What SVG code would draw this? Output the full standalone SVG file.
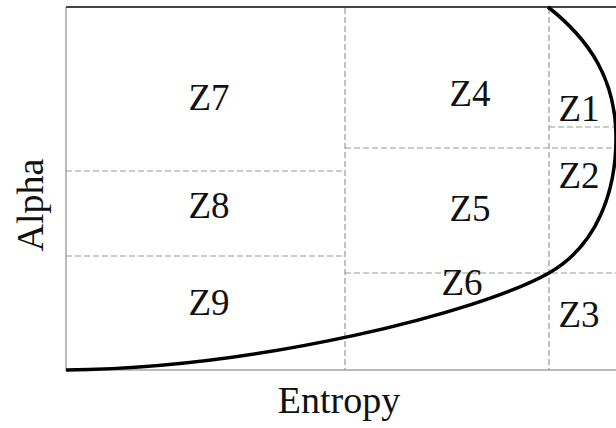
<svg xmlns="http://www.w3.org/2000/svg" width="616" height="428" viewBox="0 0 616 428">
<style>
.lbl{font-family:"Liberation Serif","Times New Roman",serif;font-size:37px;fill:#111;text-anchor:middle}
.ax{font-family:"Liberation Serif","Times New Roman",serif;font-size:38px;fill:#111;text-anchor:middle}
.dash{stroke:#999;stroke-width:1.2;stroke-dasharray:6 3;fill:none}
.frame{stroke:#bbb;stroke-width:2;fill:none}
</style>
<rect width="616" height="428" fill="#fff"/>
<g id="frame">
<line class="frame" x1="66" y1="7" x2="66" y2="371"/>
<line class="frame" x1="66" y1="370" x2="616" y2="370"/>
<line x1="66" y1="7" x2="616" y2="7" stroke="#444" stroke-width="2"/>
</g>
<g id="connectors">
<line class="dash" x1="345" y1="8" x2="345" y2="370"/>
<line class="dash" x1="549" y1="8" x2="549" y2="370"/>
<line class="dash" x1="66" y1="171" x2="345" y2="171"/>
<line class="dash" x1="66" y1="256" x2="345" y2="256"/>
<line class="dash" x1="345" y1="148" x2="616" y2="148"/>
<line class="dash" x1="345" y1="273" x2="616" y2="273"/>
<line class="dash" x1="549" y1="127" x2="616" y2="127"/>
<path d="M66,370 C260,368 480,312 549,273 C598,245 616,190 616,138 C616,80 590,40 548,7" fill="none" stroke="#000" stroke-width="3.5"/>
</g>
<g id="Z7"><text class="lbl" x="209" y="110">Z7</text></g>
<g id="Z4"><text class="lbl" x="470" y="106">Z4</text></g>
<g id="Z1"><text class="lbl" x="579" y="121">Z1</text></g>
<g id="Z8"><text class="lbl" x="209" y="218">Z8</text></g>
<g id="Z5"><text class="lbl" x="470" y="221">Z5</text></g>
<g id="Z2"><text class="lbl" x="579" y="188">Z2</text></g>
<g id="Z9"><text class="lbl" x="209" y="315">Z9</text></g>
<g id="Z6"><text class="lbl" x="462" y="295">Z6</text></g>
<g id="Z3"><text class="lbl" x="579" y="327">Z3</text></g>
<text class="ax" x="339" y="413">Entropy</text>
<text class="ax" transform="translate(43,205) rotate(-90)">Alpha</text>
</svg>
